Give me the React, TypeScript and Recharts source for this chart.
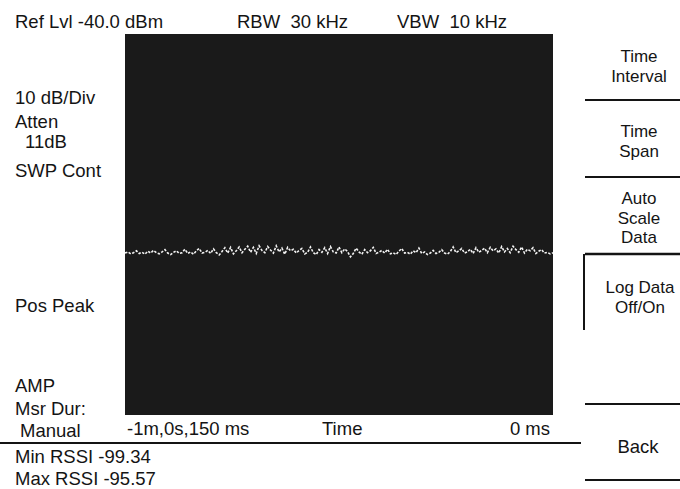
import { LineChart, Line, XAxis, YAxis, CartesianGrid } from 'recharts';

const FONT = '"Liberation Sans", Arial, Helvetica, sans-serif';
const INK = '#141414';
const SCREEN = '#1a1a1a';

// RSSI trace, dBm, oldest sample first
const rssi = [
  -97.5, -97.2, -97.7, -97.4, -96.9, -97.6, -97.3, -97.8, -97.0, -97.5,
  -96.8, -97.4, -97.7, -97.2, -96.6, -97.5, -97.9, -97.3, -96.9, -97.6,
  -97.4, -96.5, -97.6, -97.2, -97.8, -96.9, -96.3, -97.5, -97.3, -96.8,
  -97.6, -96.4, -97.4, -98.0, -97.1, -96.1, -97.5, -96.0, -97.7, -96.9,
  -95.9, -97.4, -96.5, -95.7, -97.3, -96.0, -97.6, -95.6, -96.8, -97.4,
  -95.8, -96.7, -97.5, -95.6, -97.2, -96.2, -97.8, -96.0, -96.9, -96.5,
  -97.5, -96.8, -96.3, -97.7, -97.3, -95.9, -97.4, -97.9, -96.6, -97.3,
  -96.1, -97.6, -95.8, -97.2, -97.5, -95.9, -97.4, -96.4, -97.1, -98.5,
  -97.6, -96.2, -97.2, -97.8, -96.6, -97.4, -96.9, -96.0, -97.6, -97.3,
  -96.8, -97.5, -96.5, -97.7, -97.4, -97.9, -97.0, -96.3, -97.5, -97.3,
  -97.8, -96.9, -97.4, -96.2, -97.6, -97.2, -97.9, -97.5, -96.8, -97.6,
  -97.3, -96.6, -97.5, -97.8, -97.1, -95.9, -97.4, -96.9, -96.3, -97.5,
  -97.2, -96.5, -97.6, -96.1, -97.3, -96.8, -96.2, -97.4, -96.0, -96.9,
  -96.4, -97.5, -95.8, -97.2, -96.3, -97.4, -95.7, -96.6, -97.3, -95.9,
  -97.5, -96.5, -96.9, -96.1, -97.6, -97.0, -96.6, -97.5, -97.3, -97.7,
  -97.4,
];

const yDomain = [-140, -40]; // ref lvl -40 dBm, 10 dB/div
const yTicks = [-130, -120, -110, -100, -90, -80, -70, -60, -50];
const xTicks = [15, 30, 45, 60, 75, 90, 105, 120, 135];
const timeLabels = ['-1m,0s,150 ms', 'Time', '0 ms'];

const data = rssi.map((v, i) => ({ i, v }));

const noTick = () => <g />;

type Anchor = 'start' | 'middle' | 'end';

function Txt({ x, y, lines, anchor = 'start', lh = 19.5, size = 18.5 }: { x: number; y: number; lines: string[]; anchor?: Anchor; lh?: number; size?: number }) {
  return (
    <text x={x} y={y} textAnchor={anchor} fill={INK} fontSize={size} fontFamily={FONT} style={{ whiteSpace: 'pre' }}>
      {lines.map((s, k) => (
        <tspan key={k} x={x} dy={k === 0 ? 0 : lh}>{s}</tspan>
      ))}
    </text>
  );
}

const rule = (x1: number, y1: number, x2: number, y2: number, w = 2) => (
  <line x1={x1} y1={y1} x2={x2} y2={y2} stroke={INK} strokeWidth={w} />
);

export default function App() {
  return (
    <div style={{ position: 'absolute', left: 0, top: 0, width: 680, height: 489, background: '#fff' }}>
      <LineChart width={680} height={489} data={data} margin={{ top: 34, right: 127, bottom: 74, left: 125 }}>
        <CartesianGrid fill={SCREEN} horizontal={false} vertical={false} />
        <YAxis domain={yDomain} ticks={yTicks} width={0} axisLine={false} tickSize={4} tickLine={{ stroke: '#555' }} tick={noTick} />
        <XAxis dataKey="i" type="number" domain={[0, 150]} ticks={xTicks} height={0} axisLine={false} tickSize={3} tickLine={{ stroke: '#555' }} tick={noTick} />
        <Line type="linear" dataKey="v" stroke="#f2f2f2" strokeWidth={1.6} strokeDasharray="2.5 1.5" dot={false} isAnimationActive={false} />
      </LineChart>

      <svg width={680} height={489} style={{ position: 'absolute', left: 0, top: 0, pointerEvents: 'none' }}>
        <Txt x={15} y={28} lines={['Ref Lvl -40.0 dBm']} />
        <Txt x={237} y={28} lines={['RBW  30 kHz']} />
        <Txt x={397} y={28} lines={['VBW  10 kHz']} />

        <Txt x={15} y={104} lines={['10 dB/Div']} />
        <Txt x={15} y={128} lines={['Atten']} />
        <Txt x={25} y={148} lines={['11dB']} />
        <Txt x={15} y={177} lines={['SWP Cont']} />
        <Txt x={15} y={312} lines={['Pos Peak']} />
        <Txt x={15} y={392} lines={['AMP']} />
        <Txt x={15} y={415} lines={['Msr Dur:']} />
        <Txt x={20} y={437} lines={['Manual']} />

        <Txt x={127} y={435} lines={[timeLabels[0]]} />
        <Txt x={322} y={435} lines={[timeLabels[1]]} />
        <Txt x={550} y={435} anchor="end" lines={[timeLabels[2]]} />

        {rule(0, 443, 581, 443)}
        <Txt x={15} y={463} lines={['Min RSSI -99.34']} />
        <Txt x={15} y={485} lines={['Max RSSI -95.57']} />

        {/* soft keys */}
        <Txt x={639} y={62} anchor="middle" size={17} lines={['Time', 'Interval']} />
        {rule(585, 100, 680, 100)}
        <Txt x={639} y={137} anchor="middle" size={17} lines={['Time', 'Span']} />
        {rule(585, 177, 680, 177)}
        <Txt x={639} y={204} anchor="middle" size={17} lines={['Auto', 'Scale', 'Data']} />
        {rule(585, 254, 680, 254, 2.5)}
        {rule(584, 254, 584, 330)}
        <Txt x={640} y={293} anchor="middle" size={17} lines={['Log Data', 'Off/On']} />
        {rule(585, 404, 680, 404)}
        <Txt x={638} y={453} anchor="middle" lines={['Back']} />
        {rule(585, 480, 680, 480)}
      </svg>
    </div>
  );
}
